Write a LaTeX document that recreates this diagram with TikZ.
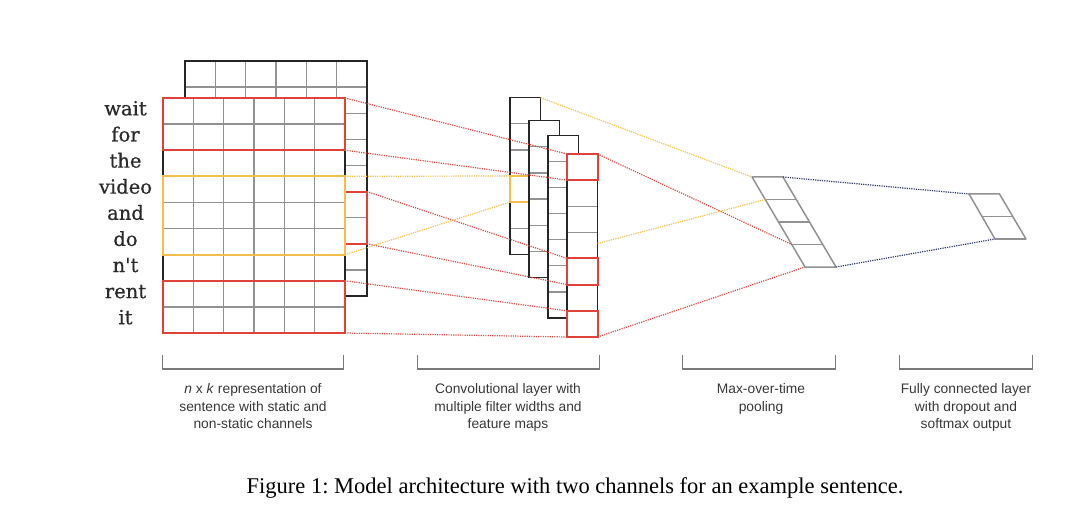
\documentclass[tikz,border=0pt]{standalone}
\usepackage{fontspec}
\usetikzlibrary{calc}
\setmainfont{Liberation Serif}
\setsansfont{Liberation Sans}
\newfontfamily\wordfont[FakeBold=0.6]{DejaVu Serif}
\definecolor{gridgray}{HTML}{929292}
\definecolor{boxred}{HTML}{E0413A}
\definecolor{dotred}{HTML}{DD4B44}
\definecolor{boxyellow}{HTML}{F3BF4A}
\definecolor{dotyellow}{HTML}{F2C04E}
\definecolor{navy}{HTML}{2B3A67}
\definecolor{labgray}{HTML}{383838}
\definecolor{wordgray}{HTML}{2A2A2A}
\definecolor{brgray}{HTML}{7A7A7A}
\tikzset{
  gridline/.style={draw=gridgray, line width=1.25pt},
  outer/.style={draw=black!85, line width=1.3pt},
  redbox/.style={draw=boxred, line width=2pt},
  yelbox/.style={draw=boxyellow, line width=1.8pt},
  dotline/.style={line width=1.2pt, dash pattern=on 1.2pt off 1.1pt},
  reddot/.style={dotline, draw=dotred},
  yeldot/.style={dotline, draw=dotyellow},
  navydot/.style={dotline, draw=navy},
  poolline/.style={draw=gridgray, line width=1.5pt, line join=round},
  bracketline/.style={draw=brgray, line width=1.1pt},
  word/.style={font=\wordfont\fontsize{19.5}{22}\selectfont, text=wordgray, anchor=base, inner sep=0pt},
  lab/.style={font=\sffamily\fontsize{13.8}{17.5}\selectfont, text=labgray, align=center, anchor=north, inner sep=0pt},
}
\begin{document}
\frenchspacing
\begin{tikzpicture}[x=1pt,y=-1pt]
\useasboundingbox (0,0) rectangle (1080,516);
\fill[white] (0,0) rectangle (1080,516);
\def\cw{30.333}
\def\rh{26.111}
% ---------- back matrix ----------
\fill[white] (185,61) rectangle (367,296);
\foreach \i in {1,...,5} \draw[gridline] (185+\i*\cw,61) -- (185+\i*\cw,296);
\foreach \j in {1,...,8} \draw[gridline] (185,61+\j*\rh) -- (367,61+\j*\rh);
\draw[outer] (185,61) rectangle (367,296);
\draw[redbox] (185,191.6) rectangle (367,243.8);
% ---------- front matrix ----------
\fill[white] (163,98) rectangle (345,333);
\foreach \i in {1,...,5} \draw[gridline] (163+\i*\cw,98) -- (163+\i*\cw,333);
\foreach \j in {1,...,8} \draw[gridline] (163,98+\j*\rh) -- (345,98+\j*\rh);
\draw[outer] (163,98) rectangle (345,333);
\draw[redbox] (163,98) rectangle (345,150.2);
\draw[yelbox] (163,176.3) rectangle (345,254.7);
\draw[redbox] (163,280.8) rectangle (345,333);
% ---------- words ----------
\foreach \w [count=\k from 0] in {wait,for,the,video,and,do,n{\symbol{39}}t,rent,it}
  \node[word] (w\k) at (125.5,98+\k*\rh+0.5*\rh+4.3) {\w};
% ---------- feature maps ----------
% map 1
\fill[white] (510,97.7) rectangle (540.5,254.3);
\foreach \j in {1,...,5} \draw[gridline] (510,97.7+\j*\rh) -- (540.5,97.7+\j*\rh);
\draw[outer] (510,97.7) rectangle (540.5,254.3);
\draw[yelbox] (510,176) rectangle (540.5,202.1);
% map 2
\fill[white] (529,120.7) rectangle (559.5,277.3);
\foreach \j in {1,...,5} \draw[gridline] (529,120.7+\j*\rh) -- (559.5,120.7+\j*\rh);
\draw[outer] (529,120.7) rectangle (559.5,277.3);
% map 3
\fill[white] (548,135.3) rectangle (578.5,318);
\foreach \j in {1,...,6} \draw[gridline] (548,135.3+\j*\rh) -- (578.5,135.3+\j*\rh);
\draw[outer] (548,135.3) rectangle (578.5,318);
% map 4
\fill[white] (567,154) rectangle (597.5,337);
\foreach \j in {1,...,6} \draw[gridline] (567,154+\j*\rh) -- (597.5,154+\j*\rh);
\draw[outer] (567,154) rectangle (597.5,337);
\draw[redbox] (567,154) rectangle (597.5,180.1);
\draw[redbox] (567,258.4) rectangle (597.5,284.6);
\draw[redbox] (567,310.8) rectangle (597.5,337);
% ---------- pooling ----------
\coordinate (pA) at (752,177);
\coordinate (pB) at (783,177);
\coordinate (pC) at (805,267);
\coordinate (pD) at (836,267);
\draw[poolline] (pA) -- (pB) -- (pD) -- (pC) -- cycle;
\foreach \f in {0.25,0.5,0.75}
  \draw[poolline] ($(pA)!\f!(pC)$) -- ($(pB)!\f!(pD)$);
% ---------- fully connected ----------
\coordinate (fA) at (969,194);
\coordinate (fB) at (999.5,194);
\coordinate (fC) at (995,239);
\coordinate (fD) at (1026,239);
\draw[poolline] (fA) -- (fB) -- (fD) -- (fC) -- cycle;
\draw[poolline] ($(fA)!0.5!(fC)$) -- ($(fB)!0.5!(fD)$);
% ---------- connector end points ----------
\coordinate (r1a) at (345,98);     \coordinate (r1b) at (567,154);
\coordinate (r2a) at (345,150.2);  \coordinate (r2b) at (567,180.1);
\coordinate (r3a) at (367,191.6);  \coordinate (r3b) at (567,258.4);
\coordinate (r4a) at (367,243.8);  \coordinate (r4b) at (567,284.6);
\coordinate (r5a) at (345,280.8);  \coordinate (r5b) at (567,310.8);
\coordinate (r6a) at (345,333);    \coordinate (r6b) at (567,337);
\coordinate (r7a) at (597.5,154);  \coordinate (r7b) at ($(pA)!0.75!(pC)$);
\coordinate (r8a) at (597.5,337);
\coordinate (y1a) at (345,176.3);  \coordinate (y1b) at (510,176);
\coordinate (y2a) at (345,254.7);  \coordinate (y2b) at (510,202.1);
\coordinate (y3a) at (540.5,97.7);
\coordinate (y4a) at (597.5,243.5); \coordinate (y4b) at ($(pA)!0.25!(pC)$);
% ---------- dotted connectors ----------
\draw[reddot] (r1a) -- (r1b);
\draw[reddot] (r2a) -- (r2b);
\draw[reddot] (r3a) -- (r3b);
\draw[reddot] (r4a) -- (r4b);
\draw[reddot] (r5a) -- (r5b);
\draw[reddot] (r6a) -- (r6b);
\draw[reddot] (r7a) -- (r7b);
\draw[reddot] (r8a) -- (pC);
\draw[yeldot] (y1a) -- (y1b);
\draw[yeldot] (y2a) -- (y2b);
\draw[yeldot] (y3a) -- (pA);
\draw[yeldot] (y4a) -- (y4b);
\draw[navydot] (pB) -- (fA);
\draw[navydot] (pD) -- (fC);
% ---------- brackets ----------
\draw[bracketline] (162.7,355) -- (162.7,369) -- (343.3,369) -- (343.3,355);
\draw[bracketline] (417.3,355) -- (417.3,369) -- (599.3,369) -- (599.3,355);
\draw[bracketline] (682.7,355) -- (682.7,369) -- (835.7,369) -- (835.7,355);
\draw[bracketline] (899.3,355) -- (899.3,369) -- (1032.7,369) -- (1032.7,355);
% ---------- labels ----------
\node[lab] (l1) at (253,383.5) {\textit{n} x \textit{k} representation of\\sentence with static and\\non-static channels};
\node[lab] (l2) at (508,383.5) {Convolutional layer with\\multiple filter widths and\\feature maps};
\node[lab] (l3) at (761,383.5) {Max-over-time\\pooling};
\node[lab] (l4) at (966,383.5) {Fully connected layer\\with dropout and\\softmax output};
% ---------- caption ----------
\node[font=\fontsize{22.5}{27}\selectfont, anchor=base, inner sep=0pt] (cap) at (575,493)
  {Figure 1: Model architecture with two channels for an example sentence.};
\end{tikzpicture}
\end{document}
